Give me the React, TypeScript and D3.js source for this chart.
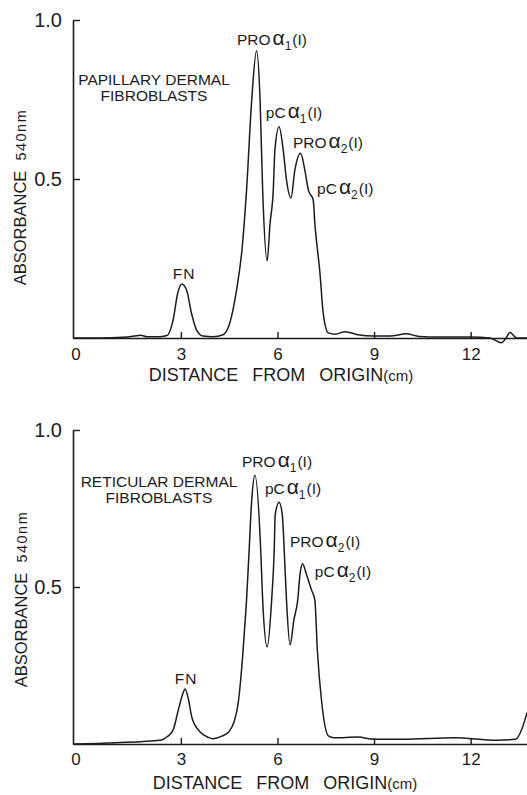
import { useEffect, useRef } from 'react';
import * as d3 from 'd3';

// papillary dermal fibroblasts : distance from origin (cm) / absorbance 540nm
const papillaryDistance = [
  -0.35, 0.5, 1.2, 1.55, 1.75, 1.95, 2.3, 2.57, 2.76, 2.9, 3.03, 3.18, 3.33, 3.49, 3.69, 4.0,
  4.31, 4.52, 4.73, 4.9, 5.04, 5.2, 5.35, 5.46, 5.54, 5.68, 5.77, 5.87, 5.92, 6.05, 6.18, 6.28,
  6.42, 6.54, 6.72, 6.85, 6.96, 7.11, 7.16, 7.32, 7.42, 7.58, 7.8, 8.1, 8.5, 9.0, 9.5, 10.0,
  10.4, 11.0, 12.0, 12.6, 12.96, 13.1, 13.22, 13.43, 13.75,
];
const papillaryAbsorbance = [
  0.0, 0.0, 0.002, 0.006, 0.009, 0.004, 0.004, 0.008, 0.057, 0.14, 0.17, 0.15, 0.078, 0.025, 0.006, 0.004,
  0.01, 0.047, 0.151, 0.28, 0.465, 0.748, 0.903, 0.748, 0.465, 0.243, 0.36, 0.465, 0.59, 0.664, 0.59, 0.497,
  0.44, 0.528, 0.581, 0.528, 0.465, 0.434, 0.362, 0.204, 0.079, 0.016, 0.012, 0.02, 0.01, 0.006, 0.006, 0.013,
  0.005, 0.003, 0.003, 0.0, -0.015, 0.0, 0.017, 0.0, 0.0,
];

// reticular dermal fibroblasts
const reticularDistance = [
  -0.35, 1.0, 2.4, 2.57, 2.76, 2.92, 3.06, 3.13, 3.24, 3.34, 3.59, 3.85, 4.0, 4.27, 4.5, 4.65,
  4.78, 4.88, 4.97, 5.04, 5.12, 5.2, 5.3, 5.48, 5.54, 5.68, 5.82, 5.9, 5.93, 6.05, 6.15, 6.21,
  6.28, 6.39, 6.51, 6.63, 6.7, 6.78, 6.9, 7.06, 7.16, 7.24, 7.37, 7.58, 7.75, 8.5, 9.0, 9.9,
  11.5, 12.8, 13.4, 13.6, 13.75,
];
const reticularAbsorbance = [
  0.0, 0.004, 0.013, 0.023, 0.045, 0.108, 0.16, 0.175, 0.14, 0.085, 0.039, 0.021, 0.017, 0.025, 0.04, 0.07,
  0.13, 0.23, 0.354, 0.459, 0.617, 0.776, 0.856, 0.617, 0.459, 0.31, 0.459, 0.62, 0.73, 0.77, 0.73, 0.617,
  0.459, 0.315, 0.395, 0.459, 0.54, 0.574, 0.54, 0.49, 0.459, 0.297, 0.137, 0.026, 0.02, 0.022, 0.015, 0.015,
  0.02, 0.012, 0.015, 0.05, 0.1,
];

const xTickValues = [3, 6, 9, 12];
const yTickValues = [0.5, 1.0];

// peak annotations (anchor in cm / absorbance)
const peakPrefix = ['PRO', 'pC', 'PRO', 'pC'];
const peakChain = ['1', '1', '2', '2'];
const papillaryLabelCm = [4.74, 5.64, 6.48, 7.23];
const papillaryLabelAbs = [0.921, 0.692, 0.597, 0.453];
const reticularLabelCm = [4.9, 5.61, 6.39, 7.16];
const reticularLabelAbs = [0.882, 0.796, 0.627, 0.532];
const fnLabelCm = [3.1, 3.16];
const fnLabelAbs = [0.186, 0.191];

const FONT = '"Liberation Sans", Arial, sans-serif';
const INK = '#1c1c1c';

function drawPanel(root, p) {
  const x = d3.scaleLinear().domain([-0.35, 13.75]).range([73, 527]);
  const y = d3.scaleLinear().domain([0, 1]).range([p.y0, p.y1]);
  const g = root.append('g').attr('font-family', FONT).attr('fill', INK);

  // x axis, ticks inward
  const xa = g.append('g')
    .attr('transform', `translate(0,${p.y0})`)
    .call(d3.axisBottom(x).tickValues(xTickValues).tickFormat(d3.format('d'))
      .tickSizeInner(-6).tickSizeOuter(0).tickPadding(p.xPad))
    .attr('font-family', FONT).attr('font-size', 17).style('color', INK);
  xa.select('.domain').attr('stroke-width', 1.6);
  xa.selectAll('.tick line').attr('stroke-width', 1.4);
  xa.append('text')
    .attr('x', x.range()[0] + 3).attr('y', p.xPad).attr('dy', '0.71em')
    .attr('text-anchor', 'middle').attr('fill', INK).text('0');

  // y axis
  const ya = g.append('g')
    .attr('transform', `translate(${x.range()[0]},0)`)
    .call(d3.axisLeft(y).tickValues(yTickValues).tickFormat(d3.format('.1f'))
      .tickSizeInner(-7).tickSizeOuter(0).tickPadding(11))
    .attr('font-family', FONT).attr('font-size', 20).style('color', INK);
  ya.select('.domain').attr('stroke-width', 1.6);
  ya.selectAll('.tick line').attr('stroke-width', 1.4);

  // curve
  const line = d3.line().x(d => x(d[0])).y(d => y(d[1])).curve(d3.curveMonotoneX);
  g.append('path')
    .datum(d3.zip(p.distance, p.absorbance))
    .attr('fill', 'none').attr('stroke', INK).attr('stroke-width', 1.5)
    .attr('stroke-linejoin', 'round')
    .attr('d', line);

  // title
  const title = g.append('text').attr('font-size', 15.5).attr('text-anchor', 'middle');
  title.append('tspan').attr('x', p.titleX).attr('y', p.titleY).text(p.title);
  title.append('tspan').attr('x', p.titleX).attr('dy', 16).text('FIBROBLASTS');

  // peak labels
  p.labelCm.forEach((cm, i) => {
    const t = g.append('text').attr('x', x(cm)).attr('y', y(p.labelAbs[i])).attr('font-size', 15.5);
    t.append('tspan').text(peakPrefix[i]);
    t.append('tspan').attr('font-size', 21).attr('dx', 2).text('α');
    t.append('tspan').attr('font-size', 12).attr('dy', 5).text(peakChain[i]);
    t.append('tspan').attr('dy', -5).attr('dx', 1).text('(I)');
  });
  g.append('text')
    .attr('x', x(p.fnCm)).attr('y', y(p.fnAbs))
    .attr('text-anchor', 'middle').attr('font-size', 15.5).attr('letter-spacing', 1)
    .text('FN');

  // axis titles
  const yl = g.append('text')
    .attr('transform', `translate(${p.yLabelX},${p.yLabelY}) rotate(-90)`)
    .attr('text-anchor', 'middle');
  yl.append('tspan').attr('font-size', 16.5).text('ABSORBANCE');
  yl.append('tspan').attr('font-size', 14.5).attr('dx', 10).attr('letter-spacing', 1.5).text('540nm');

  const xl = g.append('text')
    .attr('x', p.xLabelX).attr('y', p.xLabelY)
    .attr('text-anchor', 'middle').attr('word-spacing', 9);
  xl.append('tspan').attr('font-size', 18).text('DISTANCE FROM ORIGIN');
  xl.append('tspan').attr('font-size', 15).text('(cm)');
}

export default function App() {
  const svgRef = useRef(null);

  useEffect(() => {
    const root = d3.select(svgRef.current);
    root.selectAll('*').remove();

    drawPanel(root, {
      distance: papillaryDistance, absorbance: papillaryAbsorbance,
      y0: 338, y1: 20, xPad: 10,
      title: 'PAPILLARY DERMAL', titleX: 154, titleY: 85,
      labelCm: papillaryLabelCm, labelAbs: papillaryLabelAbs,
      fnCm: fnLabelCm[0], fnAbs: fnLabelAbs[0],
      yLabelX: 26, yLabelY: 197, xLabelX: 281, xLabelY: 381,
    });
    drawPanel(root, {
      distance: reticularDistance, absorbance: reticularAbsorbance,
      y0: 744, y1: 430, xPad: 9,
      title: 'RETICULAR DERMAL', titleX: 159, titleY: 487,
      labelCm: reticularLabelCm, labelAbs: reticularLabelAbs,
      fnCm: fnLabelCm[1], fnAbs: fnLabelAbs[1],
      yLabelX: 27, yLabelY: 599, xLabelX: 285, xLabelY: 789,
    });
  }, []);

  return (
    <svg
      ref={svgRef}
      width={527}
      height={795}
      style={{ position: 'absolute', left: 0, top: 0, background: '#fff' }}
    />
  );
}
